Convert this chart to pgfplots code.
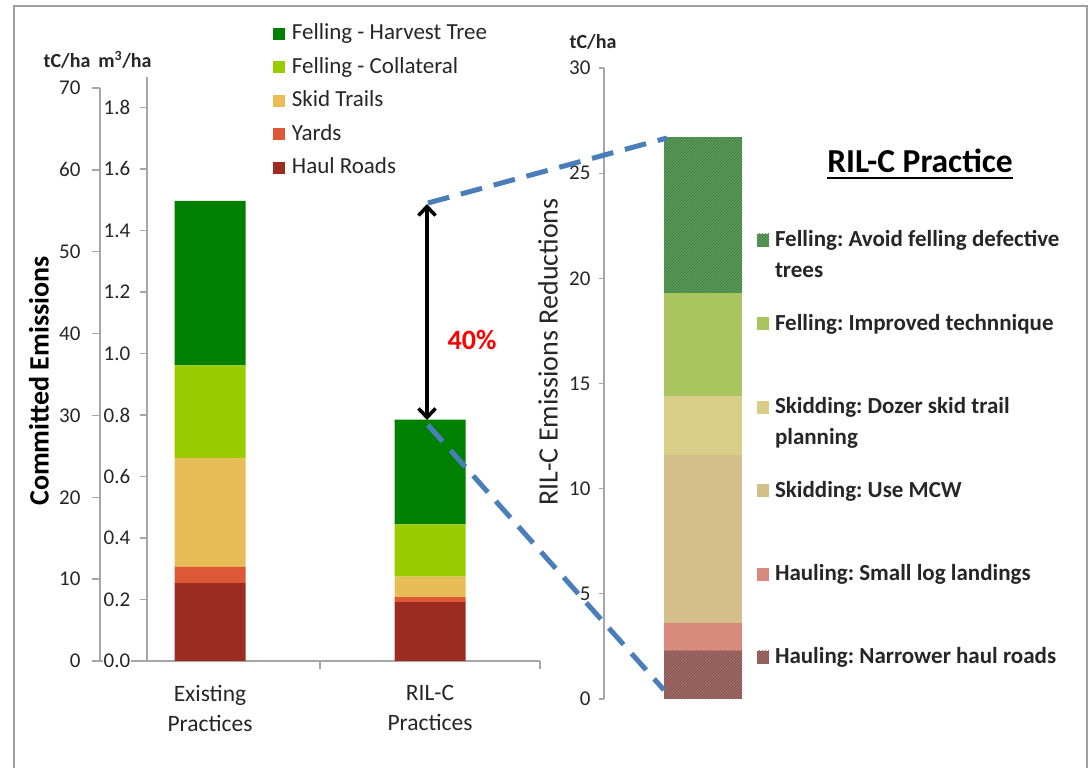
\documentclass[border=0pt]{standalone}
\usepackage{pgfplots}
\pgfplotsset{compat=1.18}
\usepackage{fontspec}
\setmainfont{Carlito}
\usetikzlibrary{arrows.meta,patterns}
\frenchspacing

\definecolor{harv}{HTML}{008000}
\definecolor{coll}{HTML}{99CC00}
\definecolor{skid}{HTML}{E8BC56}
\definecolor{yard}{HTML}{DE5838}
\definecolor{haul}{HTML}{9C2B22}
\definecolor{rA}{HTML}{5A9E5A}
\definecolor{rB}{HTML}{A8C55E}
\definecolor{rC}{HTML}{D8CE88}
\definecolor{rD}{HTML}{D4BF8A}
\definecolor{rE}{HTML}{D88A7C}
\definecolor{rF}{HTML}{A86C68}
\definecolor{axgray}{HTML}{A6A6A6}
\definecolor{dashblue}{HTML}{4A7EBB}
\definecolor{txt}{HTML}{262626}
\newcommand{\fs}[1]{\fontsize{#1}{#1}\selectfont}

\begin{document}
\begin{tikzpicture}[x=1pt,y=1pt]
\useasboundingbox (0,0) rectangle (1092,768);
\draw[gray!75, line width=1.5pt] (14,-2)--(14,762)--(1087,762)--(1087,-2);

% ---------------- left main axis (tC/ha)
\begin{axis}[
  at={(100pt,107pt)}, anchor=south west,
  scale only axis, width=440pt, height=573pt,
  xmin=-0.5, xmax=1.5, ymin=0, ymax=70,
  enlargelimits=false, clip=false,
  axis x line*=bottom, axis y line*=left,
  axis line style={draw=axgray, line width=1.3pt},
  ybar stacked, bar width=71pt,
  xtick={0,1},
  xticklabels={{Existing\\Practices},{RIL-C\\Practices}},
  x tick label style={align=center, font=\fontsize{23.5}{30}\selectfont, text=txt, yshift=-13pt},
  xtick style={draw=none},
  extra x ticks={0.5,1.5}, extra x tick labels={},
  extra x tick style={xtick style={draw=axgray, line width=1.3pt}},
  ytick={0,10,20,30,40,50,60,70},
  y tick label style={font=\fs{21}, text=txt, xshift=-8pt},
  ytick style={draw=axgray, line width=1.3pt},
  tick align=outside, major tick length=8pt,
  /pgf/number format/assume math mode=true,
  legend style={at={(0.393,1.112)}, anchor=north west, draw=none, fill=none,
    inner sep=0pt, outer sep=0pt, font=\fs{23}, text=txt,
    row sep=12.5pt, column sep=7pt,
    nodes={text height=16pt, text depth=5pt, inner sep=0pt},
    cells={anchor=base west}},
  legend image code/.code={\fill[#1] (0pt,0pt) rectangle (12pt,12pt);},
  reverse legend,
]
\addplot[fill=haul, draw=none] coordinates {(0,9.5) (1,7.2)};
\addlegendentry{Haul Roads}
\addplot[fill=yard, draw=none] coordinates {(0,2.0) (1,0.6)};
\addlegendentry{Yards}
\addplot[fill=skid, draw=none] coordinates {(0,13.3) (1,2.5)};
\addlegendentry{Skid Trails}
\addplot[fill=coll, draw=none] coordinates {(0,11.3) (1,6.4)};
\addlegendentry{Felling - Collateral}
\addplot[fill=harv, draw=none] coordinates {(0,20.1) (1,12.8)};
\addlegendentry{Felling - Harvest Tree}
\end{axis}

% ---------------- left secondary axis (m3/ha)
\begin{axis}[
  at={(147pt,107pt)}, anchor=south west,
  scale only axis, width=10pt, height=584pt,
  xmin=0, xmax=1, ymin=0, ymax=1.899,
  enlargelimits=false,
  axis x line=none, axis y line*=left,
  axis line style={draw=axgray, line width=1.3pt},
  ytick={0,0.2,0.4,0.6,0.8,1.0,1.2,1.4,1.6,1.8},
  yticklabel style={/pgf/number format/fixed, /pgf/number format/fixed zerofill,
    /pgf/number format/precision=1, font=\fs{21}, text=txt, fill=white, inner sep=0.5pt, xshift=-9pt},
  ytick style={draw=axgray, line width=1.3pt},
  tick align=outside, major tick length=7pt,
  /pgf/number format/assume math mode=true,
]
\end{axis}

% ---------------- right axis (RIL-C reductions)
\begin{axis}[
  at={(604pt,69pt)}, anchor=south west,
  scale only axis, width=198pt, height=631pt,
  xmin=-0.5, xmax=0.5, ymin=0, ymax=30,
  enlargelimits=false, clip=false,
  axis x line=none, axis y line*=left,
  axis line style={draw=axgray, line width=1.3pt},
  ybar stacked, bar width=78pt,
  ytick={0,5,10,15,20,25,30},
  y tick label style={font=\fs{21}, text=txt, xshift=-5pt},
  ytick style={draw=axgray, line width=1.3pt},
  tick align=outside, major tick length=5pt,
  /pgf/number format/assume math mode=true,
  legend style={at={(0.7727,0.7417)}, anchor=north west, draw=none, fill=none,
    inner sep=0pt, outer sep=0pt, font=\fs{23}\bfseries, text=txt,
    row sep=62.4pt, column sep=6pt,
    nodes={text height=16pt, text depth=5pt, inner sep=0pt},
    cells={anchor=base west}},
  legend image code/.code={\fill[#1] (0pt,0pt) rectangle (12pt,13pt);},
  reverse legend,
]
\addplot[fill=rF, draw=none, postaction={pattern=north east lines, pattern color=rF!70!black}] coordinates {(0,2.3)};
\addlegendentry{Hauling: Narrower haul roads}
\addplot[fill=rE, draw=none] coordinates {(0,1.3)};
\addlegendentry{Hauling: Small log landings}
\addplot[fill=rD, draw=none] coordinates {(0,8.0)};
\addlegendentry{Skidding: Use MCW}
\addplot[fill=rC, draw=none] coordinates {(0,2.8)};
\addlegendentry{\rlap{\raisebox{-31pt}[0pt][0pt]{planning}}Skidding: Dozer skid trail}
\addplot[fill=rB, draw=none] coordinates {(0,4.9)};
\addlegendentry{Felling: Improved technnique}
\addplot[fill=rA, draw=none, postaction={pattern=north east lines, pattern color=rA!75!black}] coordinates {(0,7.4)};
\addlegendentry{\rlap{\raisebox{-31pt}[0pt][0pt]{trees}}Felling: Avoid felling defective}
\end{axis}

% ---------------- annotations
\node[font=\fs{20}\bfseries, text=txt] at (67,707) {tC/ha};
\node[font=\fs{20}\bfseries, text=txt] at (125,708) {m\textsuperscript{3}/ha};
\node[font=\fs{20}\bfseries, text=txt] at (593,726) {tC/ha};
\node[rotate=90, font=\fs{28}\bfseries, text=black] at (39,387) {Committed Emissions};
\node[rotate=90, font=\fs{28}, text=txt] at (548,416) {RIL-C Emissions Reductions};
\node[font=\fs{28}\bfseries, text=red] at (472,428) {40\%};
\node[font=\fs{33.5}\bfseries, text=black, anchor=base, inner sep=0pt] (T) at (920,595) {RIL-C Practice};
\draw[line width=2pt] ([yshift=-5pt]T.base west) -- ([yshift=-5pt]T.base east);

\draw[dashblue, line width=5pt, dash pattern=on 22pt off 12pt] (428,565) -- (667,630);
\draw[dashblue, line width=5pt, dash pattern=on 22pt off 12pt] (428,343) -- (664,78);
\draw[black, line width=3.5pt, {Straight Barb[length=9pt,width=17pt]}-{Straight Barb[length=9pt,width=17pt]}] (427,564) -- (427,348);
\end{tikzpicture}
\end{document}
